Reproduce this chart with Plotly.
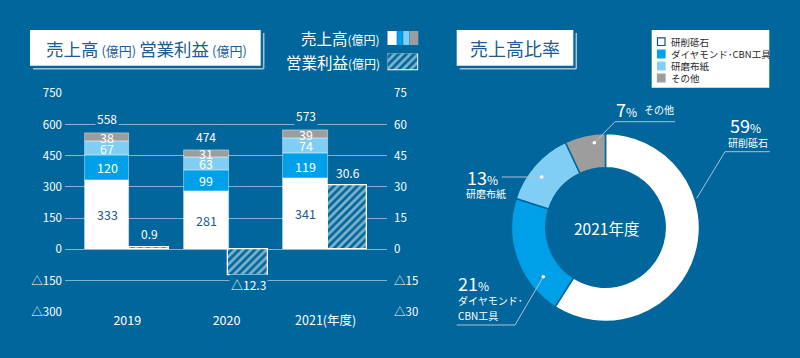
import plotly.graph_objects as go

W, H = 800, 358
BG = '#00669b'
DARK = '#1b5b96'
GRID = 'rgba(255,255,255,0.5)'
LEADER = '#a9c3da'
FONT = 'Noto Sans CJK JP'

# ---------------- data ----------------
years = ['2019', '2020', '2021(年度)']
segments = ['研削砥石', 'ダイヤモンド･CBN工具', '研磨布紙', 'その他']
seg_colors = ['#ffffff', '#00a0e9', '#80cef4', '#9d9d9d']
sales_grinding = [333, 281, 341]
sales_diamond = [120, 99, 119]
sales_coated = [67, 63, 74]
sales_other = [38, 31, 39]
op_profit = [0.9, -12.3, 30.6]
sales_ticks = [-300, -150, 0, 150, 300, 450, 600, 750]
profit_ticks = [-30, -15, 0, 15, 30, 45, 60, 75]
ratio_labels = ['研削砥石', 'ダイヤモンド･CBN工具', '研磨布紙', 'その他']
ratio_pct = [59, 21, 13, 7]
ratio_center = '2021年度'

sales_series = [sales_grinding, sales_diamond, sales_coated, sales_other]


def fmt(v):
    s = f'{abs(v):g}'
    return ('△' + s) if v < 0 else s


def px(x):
    return x / W


def py(y):
    return 1 - y / H


SALES_OFF, SALES_W = -0.428, 0.449
OP_OFF, OP_W = 0.02, 0.40
HATCH = dict(shape='/', fgcolor='white', bgcolor=BG, size=5.5, solidity=0.5)

fig = go.Figure()

for vals, name, col in zip(sales_series, segments, seg_colors):
    fig.add_trace(go.Bar(
        x=list(range(len(years))), y=vals, name=name,
        width=SALES_W, offset=SALES_OFF,
        marker=dict(color=col, line=dict(color='rgba(255,255,255,0.55)', width=0.8)),
        xaxis='x', yaxis='y', showlegend=False, hoverinfo='skip'))

fig.add_trace(go.Bar(
    x=list(range(len(years))), y=op_profit, name='営業利益',
    width=OP_W, offset=OP_OFF,
    marker=dict(color=BG, line=dict(color='white', width=1.3), pattern=HATCH),
    xaxis='x', yaxis='y2', showlegend=False, hoverinfo='skip'))

# legend swatch for hatch (mini axes)
fig.add_trace(go.Bar(
    x=[0], y=[1], width=1,
    marker=dict(color=BG, line=dict(color='white', width=1.3), pattern=HATCH),
    xaxis='x3', yaxis='y3', showlegend=False, hoverinfo='skip'))

# donut
fig.add_trace(go.Pie(
    labels=ratio_labels, values=ratio_pct, hole=0.635, sort=False,
    direction='clockwise', rotation=0, textinfo='none', hoverinfo='skip',
    marker=dict(colors=seg_colors, line=dict(color=BG, width=1.5)),
    domain=dict(x=[px(511.5), px(699.5)], y=[py(321.5), py(133.5)]),
    showlegend=False))

annotations = []
shapes = []

# segment labels
for i in range(len(years)):
    base = 0
    for j, vals in enumerate(sales_series):
        v = vals[i]
        annotations.append(dict(
            x=i + SALES_OFF + SALES_W / 2, y=base + v / 2, xref='x', yref='y',
            text=str(v), showarrow=False, xanchor='center', yanchor='middle',
            font=dict(size=12.5, color=DARK if j == 0 else 'white')))
        base += v
    annotations.append(dict(
        x=i + SALES_OFF + SALES_W / 2, y=base, xref='x', yref='y',
        text=str(base), showarrow=False, xanchor='center', yanchor='bottom', yshift=4,
        bgcolor=BG, borderpad=1,
        font=dict(size=12, color='white')))
    v = op_profit[i]
    annotations.append(dict(
        x=i + OP_OFF + OP_W / 2, y=v, xref='x', yref='y2',
        text=fmt(v), showarrow=False, xanchor='center',
        yanchor='bottom' if v >= 0 else 'top', yshift=3 if v >= 0 else 1,
        bgcolor=BG, borderpad=1,
        font=dict(size=12, color='white')))


def title_box(x0, y0, x1, y1):
    shapes.append(dict(type='line', xref='paper', yref='paper', layer='below',
                       x0=px(x1 + 3), x1=px(x1 + 3), y0=py(y0 + 3), y1=py(y1 + 3),
                       line=dict(color='#aac0d6', width=1.5)))
    shapes.append(dict(type='line', xref='paper', yref='paper', layer='below',
                       x0=px(x0 + 3), x1=px(x1 + 3), y0=py(y1 + 3), y1=py(y1 + 3),
                       line=dict(color='#aac0d6', width=1.5)))
    shapes.append(dict(type='rect', xref='paper', yref='paper', layer='below',
                       x0=px(x0), x1=px(x1), y0=py(y1), y1=py(y0),
                       fillcolor='white', line=dict(width=0)))


def note(x, y, text, size, color='white', xanchor='center'):
    annotations.append(dict(x=px(x), y=py(y), xref='paper', yref='paper',
                            showarrow=False, xanchor=xanchor, yanchor='middle',
                            text=text, font=dict(size=size, color=color)))


title_box(30, 30, 260.7, 65.7)
title_box(456.7, 30, 573.3, 65.7)

sm = "<span style='font-size:13px'>"
note(146, 48.5, f"売上高{sm} (億円) </span>営業利益{sm} (億円)</span>", 17.5, DARK)
note(515, 48.5, '売上高比率', 18, DARK)

# top legend (bar chart)
sm2 = "<span style='font-size:12px'>"
note(382, 38.5, f"売上高{sm2}(億円)</span>", 15.5, 'white', 'right')
note(382, 62, f"営業利益{sm2}(億円)</span>", 15.5, 'white', 'right')
sw_edges = [387.5, 396.7, 402.7, 409.5, 418.3]
for k, col in enumerate(seg_colors):
    shapes.append(dict(type='rect', xref='paper', yref='paper', layer='below',
                       x0=px(sw_edges[k] + (0.5 if k else 0)), x1=px(sw_edges[k + 1]),
                       y0=py(45), y1=py(31), fillcolor=col, line=dict(width=0)))

# right legend box
shapes.append(dict(type='rect', xref='paper', yref='paper', layer='below',
                   x0=px(651.7), x1=px(769.3), y0=py(87.7), y1=py(30),
                   fillcolor='white', line=dict(width=0)))
rows = [41.7, 54, 66, 78]
for k, (lab, col) in enumerate(zip(ratio_labels, seg_colors)):
    shapes.append(dict(type='rect', xref='paper', yref='paper',
                       x0=px(657.5), x1=px(665), y0=py(rows[k] + 3.8), y1=py(rows[k] - 3.8),
                       fillcolor=col,
                       line=dict(color='#1a4c7c' if k == 0 else col, width=1.2)))
    note(669, rows[k], lab, 9.5, '#2a2a2a', 'left')

# donut center
note(606, 228, ratio_center, 15.5)

# donut labels
pct = "<span style='font-size:12px'>%</span>"


def seg(x0, y0, x1, y1):
    shapes.append(dict(type='line', xref='paper', yref='paper',
                       x0=px(x0), y0=py(y0), x1=px(x1), y1=py(y1),
                       line=dict(color=LEADER, width=1)))


def dot(x, y):
    shapes.append(dict(type='circle', xref='paper', yref='paper',
                       x0=px(x - 1.8), x1=px(x + 1.8), y0=py(y + 1.8), y1=py(y - 1.8),
                       fillcolor='white', line=dict(width=0)))


# 59% 研削砥石
note(745, 124.5, f"{ratio_pct[0]}{pct}", 18)
note(748, 142.5, ratio_labels[0], 10)
seg(725, 151.7, 770, 151.7)
seg(725, 151.7, 696.7, 198.3)
# 7% その他
note(626.5, 108.5, f"{ratio_pct[3]}{pct}", 18)
note(659, 109.5, ratio_labels[3], 10)
seg(615, 121.7, 675, 121.7)
seg(615, 121.7, 594.3, 142.7)
dot(594.3, 142.7)
# 13% 研磨布紙
note(482, 177, f"{ratio_pct[2]}{pct}", 18)
note(486, 193.5, ratio_labels[2], 10)
seg(501.7, 177, 541.7, 177)
dot(541.7, 177)
# 21% ダイヤモンド･CBN工具
note(456, 283, f"{ratio_pct[1]}{pct}", 18, 'white', 'left')
note(456, 300, 'ダイヤモンド･', 10, 'white', 'left')
note(456, 315, 'CBN工具', 10, 'white', 'left')
seg(456.7, 325, 515, 325)
seg(515, 325, 543.3, 276.7)
dot(543.3, 276.7)

tickfont = dict(size=11.5, color='white')
fig.update_layout(
    width=W, height=H, margin=dict(l=0, r=0, t=0, b=0, autoexpand=False),
    paper_bgcolor=BG, plot_bgcolor=BG,
    font=dict(family=FONT, color='white'),
    barmode='relative', bargap=0,
    xaxis=dict(domain=[px(65), px(387)], range=[-0.628, 2.618], anchor='y',
               tickvals=list(range(len(years))), ticktext=years, automargin=False,
               showgrid=False, zeroline=False, showline=False,
               tickfont=dict(size=12.5, color='white')),
    yaxis=dict(domain=[py(311.7), py(93.3)], range=[-300, 750], anchor='x',
               tickvals=sales_ticks, ticktext=[fmt(v) for v in sales_ticks],
               showgrid=True, gridcolor=GRID, gridwidth=1, zeroline=False,
               showline=False, tickfont=tickfont, automargin=False,
               ticklabelstandoff=2),
    yaxis2=dict(range=[-30, 75], overlaying='y', side='right', anchor='x',
                tickvals=profit_ticks, ticktext=[fmt(v) for v in profit_ticks],
                showgrid=False, zeroline=False, showline=False, tickfont=tickfont,
                automargin=False, ticklabelstandoff=6),
    xaxis3=dict(domain=[px(387.5), px(418.3)], range=[-0.5, 0.5], anchor='y3',
                visible=False, automargin=False),
    yaxis3=dict(domain=[py(70.5), py(53.5)], range=[0, 1], anchor='x3',
                visible=False, automargin=False),
    annotations=annotations, shapes=shapes,
)

fig.write_html('out.html', config={'displayModeBar': False},
               post_script="document.body.style.margin='0';document.body.style.overflow='hidden';")
